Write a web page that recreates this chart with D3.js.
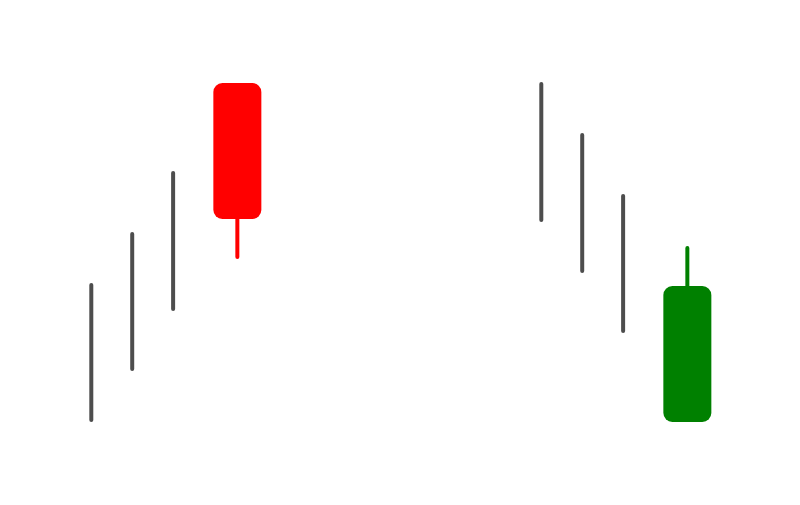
<!DOCTYPE html>
<html>
<head>
<meta charset="utf-8">
<script src="https://cdn.jsdelivr.net/npm/d3@7"></script>
<style>
  html, body { margin: 0; padding: 0; background: #ffffff; }
  svg { display: block; }
</style>
</head>
<body>
<div id="chart"></div>
<script>
// Plain price-range lines (high/low) on the left and right groups
const lineSlots = [0, 1, 2, 11, 12, 13];
const lineHigh  = [42.5, 55.25, 70.5, 92.75, 80.0, 64.75];
const lineLow   = [8.75, 21.5, 36.5, 58.75, 46.0, 31.0];

// Candles
const candleSlots = [3.57, 14.57];
const candleOpen  = [59.0, 42.25];
const candleClose = [93.0, 8.25];
const candleHigh  = [93.0, 51.75];
const candleLow   = [49.5, 8.25];
const candleColors = ["#ff0000", "#008000"];

const width = 800, height = 505;

const x = d3.scaleLinear().domain([0, 11]).range([91.3, 541.3]);
const y = d3.scaleLinear().domain([0, 100]).range([455, 55]);

const svg = d3.select("#chart").append("svg")
  .attr("width", width).attr("height", height);

const lines = lineSlots.map((s, i) => ({ s, hi: lineHigh[i], lo: lineLow[i] }));
svg.append("g").selectAll("line").data(lines).join("line")
  .attr("x1", d => x(d.s)).attr("x2", d => x(d.s))
  .attr("y1", d => y(d.hi)).attr("y2", d => y(d.lo))
  .attr("stroke", "#4d4d4d")
  .attr("stroke-width", 4)
  .attr("stroke-linecap", "round");

const candles = candleSlots.map((s, i) => ({
  s, o: candleOpen[i], c: candleClose[i], h: candleHigh[i], l: candleLow[i], col: candleColors[i]
}));
const bodyW = 48;
const g = svg.append("g").selectAll("g").data(candles).join("g");
// wick segments: from each extreme to the body centre, only when extending beyond the body
const wicks = candles.flatMap(d => {
  const mid = (d.o + d.c) / 2;
  const top = Math.max(d.o, d.c), bot = Math.min(d.o, d.c);
  const out = [];
  if (d.h > top) out.push({ s: d.s, a: d.h, b: mid, col: d.col });
  if (d.l < bot) out.push({ s: d.s, a: d.l, b: mid, col: d.col });
  return out;
});
svg.append("g").selectAll("line").data(wicks).join("line")
  .attr("x1", d => x(d.s)).attr("x2", d => x(d.s))
  .attr("y1", d => y(d.a)).attr("y2", d => y(d.b))
  .attr("stroke", d => d.col)
  .attr("stroke-width", 4)
  .attr("stroke-linecap", "round");
svg.append("g").selectAll("rect").data(candles).join("rect")
  .attr("x", d => x(d.s) - bodyW / 2)
  .attr("width", bodyW)
  .attr("y", d => y(Math.max(d.o, d.c)))
  .attr("height", d => Math.abs(y(d.o) - y(d.c)))
  .attr("rx", 9).attr("ry", 9)
  .attr("fill", d => d.col);
</script>
</body>
</html>
